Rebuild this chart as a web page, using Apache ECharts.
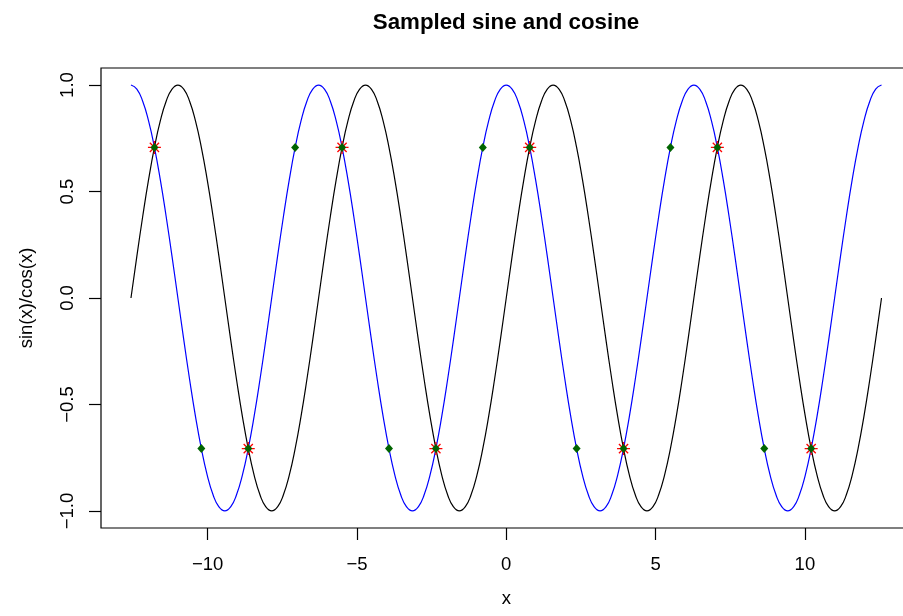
<!DOCTYPE html>
<html>
<head>
<meta charset="utf-8">
<script src="https://cdn.jsdelivr.net/npm/echarts@6/dist/echarts.min.js"></script>
<style>html,body{margin:0;padding:0;background:#fff;overflow:hidden}#c{width:912px;height:616px}</style>
</head>
<body>
<div id="c"></div>
<script>
// curve sample positions (x)
const xs = [-12.5664,-12.3700,-12.1737,-11.9773,-11.7810,-11.5846,-11.3883,-11.1919,-10.9956,-10.7992,-10.6029,-10.4065,-10.2102,-10.0138,-9.8175,-9.6211,
-9.4248,-9.2284,-9.0321,-8.8357,-8.6394,-8.4430,-8.2467,-8.0503,-7.8540,-7.6576,-7.4613,-7.2649,-7.0686,-6.8722,-6.6759,-6.4795,
-6.2832,-6.0868,-5.8905,-5.6941,-5.4978,-5.3014,-5.1051,-4.9087,-4.7124,-4.5160,-4.3197,-4.1233,-3.9270,-3.7306,-3.5343,-3.3379,
-3.1416,-2.9452,-2.7489,-2.5525,-2.3562,-2.1598,-1.9635,-1.7671,-1.5708,-1.3744,-1.1781,-0.9817,-0.7854,-0.5890,-0.3927,-0.1963,
0,0.1963,0.3927,0.5890,0.7854,0.9817,1.1781,1.3744,1.5708,1.7671,1.9635,2.1598,2.3562,2.5525,2.7489,2.9452,
3.1416,3.3379,3.5343,3.7306,3.9270,4.1233,4.3197,4.5160,4.7124,4.9087,5.1051,5.3014,5.4978,5.6941,5.8905,6.0868,
6.2832,6.4795,6.6759,6.8722,7.0686,7.2649,7.4613,7.6576,7.8540,8.0503,8.2467,8.4430,8.6394,8.8357,9.0321,9.2284,
9.4248,9.6211,9.8175,10.0138,10.2102,10.4065,10.6029,10.7992,10.9956,11.1919,11.3883,11.5846,11.7810,11.9773,12.1737,12.3700,12.5664];
const sinVals = [0,0.1951,0.3827,0.5556,0.7071,0.8315,0.9239,0.9808,1,0.9808,0.9239,0.8315,0.7071,0.5556,0.3827,0.1951,
0,-0.1951,-0.3827,-0.5556,-0.7071,-0.8315,-0.9239,-0.9808,-1,-0.9808,-0.9239,-0.8315,-0.7071,-0.5556,-0.3827,-0.1951,
0,0.1951,0.3827,0.5556,0.7071,0.8315,0.9239,0.9808,1,0.9808,0.9239,0.8315,0.7071,0.5556,0.3827,0.1951,
0,-0.1951,-0.3827,-0.5556,-0.7071,-0.8315,-0.9239,-0.9808,-1,-0.9808,-0.9239,-0.8315,-0.7071,-0.5556,-0.3827,-0.1951,
0,0.1951,0.3827,0.5556,0.7071,0.8315,0.9239,0.9808,1,0.9808,0.9239,0.8315,0.7071,0.5556,0.3827,0.1951,
0,-0.1951,-0.3827,-0.5556,-0.7071,-0.8315,-0.9239,-0.9808,-1,-0.9808,-0.9239,-0.8315,-0.7071,-0.5556,-0.3827,-0.1951,
0,0.1951,0.3827,0.5556,0.7071,0.8315,0.9239,0.9808,1,0.9808,0.9239,0.8315,0.7071,0.5556,0.3827,0.1951,
0,-0.1951,-0.3827,-0.5556,-0.7071,-0.8315,-0.9239,-0.9808,-1,-0.9808,-0.9239,-0.8315,-0.7071,-0.5556,-0.3827,-0.1951,0];
const cosVals = [1,0.9808,0.9239,0.8315,0.7071,0.5556,0.3827,0.1951,0,-0.1951,-0.3827,-0.5556,-0.7071,-0.8315,-0.9239,-0.9808,
-1,-0.9808,-0.9239,-0.8315,-0.7071,-0.5556,-0.3827,-0.1951,0,0.1951,0.3827,0.5556,0.7071,0.8315,0.9239,0.9808,
1,0.9808,0.9239,0.8315,0.7071,0.5556,0.3827,0.1951,0,-0.1951,-0.3827,-0.5556,-0.7071,-0.8315,-0.9239,-0.9808,
-1,-0.9808,-0.9239,-0.8315,-0.7071,-0.5556,-0.3827,-0.1951,0,0.1951,0.3827,0.5556,0.7071,0.8315,0.9239,0.9808,
1,0.9808,0.9239,0.8315,0.7071,0.5556,0.3827,0.1951,0,-0.1951,-0.3827,-0.5556,-0.7071,-0.8315,-0.9239,-0.9808,
-1,-0.9808,-0.9239,-0.8315,-0.7071,-0.5556,-0.3827,-0.1951,0,0.1951,0.3827,0.5556,0.7071,0.8315,0.9239,0.9808,
1,0.9808,0.9239,0.8315,0.7071,0.5556,0.3827,0.1951,0,-0.1951,-0.3827,-0.5556,-0.7071,-0.8315,-0.9239,-0.9808,
-1,-0.9808,-0.9239,-0.8315,-0.7071,-0.5556,-0.3827,-0.1951,0,0.1951,0.3827,0.5556,0.7071,0.8315,0.9239,0.9808,1];
// sampled points
const redX = [-11.781,-8.639,-5.498,-2.356,0.785,3.927,7.069,10.210];
const redY = [0.7071,-0.7071,0.7071,-0.7071,0.7071,-0.7071,0.7071,-0.7071];
const greenX = [-11.781,-10.210,-8.639,-7.069,-5.498,-3.927,-2.356,-0.785,0.785,2.356,3.927,5.498,7.069,8.639,10.210];
const greenY = [0.7071,-0.7071,-0.7071,0.7071,0.7071,-0.7071,-0.7071,0.7071,0.7071,-0.7071,-0.7071,0.7071,0.7071,-0.7071,-0.7071];
// ticks
const xTicks = [-10,-5,0,5,10];
const yTicks = [-1,-0.5,0,0.5,1];
const titleText = 'Sampled sine and cosine';
const xName = 'x';
const yName = 'sin(x)/cos(x)';

const FONT = '"Liberation Sans", Arial, Helvetica, sans-serif';
const minus = s => String(s).replace('-', '\u2212');
const chart = echarts.init(document.getElementById('c'), null, {renderer: 'canvas'});
const star = 'path://M0,5 L10,5 M5,0 L5,10 M1.46,1.46 L8.54,8.54 M8.54,1.46 L1.46,8.54';
chart.setOption({
  animation: false,
  backgroundColor: '#ffffff',
  graphic: [{
    type: 'text', x: 506, y: 22.5,
    style: {text: titleText, fontFamily: FONT, fontWeight: 'bold', fontSize: 22.3, fill: '#000', textAlign: 'center', textVerticalAlign: 'middle'}
  }],
  grid: {left: 101, top: 68, right: 0.5, bottom: 88, show: true, borderColor: '#000', borderWidth: 1.2, backgroundColor: 'transparent'},
  xAxis: {
    type: 'value', min: -13.57, max: 13.57,
    name: xName, nameLocation: 'middle', nameGap: 61,
    nameTextStyle: {fontFamily: FONT, fontSize: 18.5, color: '#000'},
    axisLine: {show: false, onZero: false},
    axisTick: {show: true, length: 12, inside: false, customValues: xTicks, lineStyle: {color: '#000', width: 1.2}},
    axisLabel: {customValues: xTicks, margin: 27, fontFamily: FONT, fontSize: 18.5, color: '#000', formatter: v => minus(v)},
    splitLine: {show: false}
  },
  yAxis: {
    type: 'value', min: -1.08, max: 1.08,
    name: yName, nameLocation: 'middle', nameGap: 65, nameRotate: 90,
    nameTextStyle: {fontFamily: FONT, fontSize: 18.5, color: '#000'},
    axisLine: {show: false, onZero: false},
    axisTick: {show: true, length: 12, inside: false, customValues: yTicks, lineStyle: {color: '#000', width: 1.2}},
    axisLabel: {customValues: yTicks, rotate: 90, margin: 24, fontFamily: FONT, fontSize: 18.5, color: '#000', formatter: v => minus(v.toFixed(1))},
    splitLine: {show: false}
  },
  series: [
    {type: 'line', data: xs.map((x, i) => [x, sinVals[i]]), showSymbol: false, smooth: 0.5, lineStyle: {color: '#000', width: 1.2}, silent: true, z: 2},
    {type: 'line', data: xs.map((x, i) => [x, cosVals[i]]), showSymbol: false, smooth: 0.5, lineStyle: {color: '#0000ff', width: 1.2}, silent: true, z: 3},
    {type: 'scatter', data: redX.map((x, i) => [x, redY[i]]), symbol: star, symbolSize: 13, itemStyle: {color: 'rgba(0,0,0,0)', borderColor: '#ff0000', borderWidth: 1.3, opacity: 1}, silent: true, z: 4},
    {type: 'scatter', data: greenX.map((x, i) => [x, greenY[i]]), symbol: 'diamond', symbolSize: [8, 9], itemStyle: {color: '#006400', opacity: 1}, silent: true, z: 5}
  ]
});
</script>
</body>
</html>
